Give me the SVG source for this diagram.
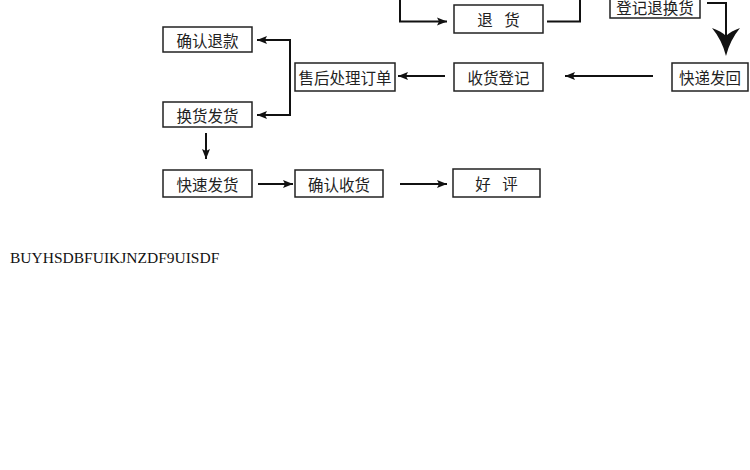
<svg xmlns="http://www.w3.org/2000/svg" width="750" height="470" viewBox="0 0 750 470">
<defs>
<marker id="ah" markerUnits="userSpaceOnUse" markerWidth="12" markerHeight="10" refX="10" refY="5" orient="auto">
<path d="M0,1 L10,5 L0,9 L2,5 Z" fill="#111"/>
</marker>
</defs>
<style>
.box{fill:#fff;stroke:#222;stroke-width:1.5}
.t{font-family:"Noto Sans CJK SC","Noto Sans",sans-serif;font-size:15.5px;fill:#222;text-anchor:middle;dominant-baseline:central}
.c{fill:none;stroke:#111;stroke-width:2}
</style>
<rect width="750" height="470" fill="#fff"/>
<g id="n-tuihuo"><rect class="box" x="454" y="5" width="89" height="28"/><text class="t" x="498.5" y="19" word-spacing="8">退 货</text></g>
<g id="n-dengji"><rect class="box" x="610" y="-12" width="90" height="30"/><text class="t" x="655" y="6.5">登记退换货</text></g>
<g id="n-querentuikuan"><rect class="box" x="163" y="27" width="89" height="25"/><text class="t" x="207.5" y="39.5">确认退款</text></g>
<g id="n-shouhou"><rect class="box" x="295" y="63" width="100" height="28"/><text class="t" x="345" y="77">售后处理订单</text></g>
<g id="n-shouhuodengji"><rect class="box" x="454" y="63" width="89" height="28"/><text class="t" x="498.5" y="77">收货登记</text></g>
<g id="n-kuaidifahui"><rect class="box" x="672" y="63" width="76" height="28"/><text class="t" x="710" y="77">快递发回</text></g>
<g id="n-huanhuofahuo"><rect class="box" x="163" y="102" width="89" height="25"/><text class="t" x="207.5" y="114.5">换货发货</text></g>
<g id="n-kuaisufahuo"><rect class="box" x="163" y="170" width="89" height="27"/><text class="t" x="207.5" y="183.5">快速发货</text></g>
<g id="n-querenshouhuo"><rect class="box" x="295" y="170" width="88" height="27"/><text class="t" x="339" y="183.5">确认收货</text></g>
<g id="n-haoping"><rect class="box" x="453" y="169" width="87" height="28"/><text class="t" x="496.5" y="183" word-spacing="8">好 评</text></g>
<g id="connectors">
<path class="c" d="M400,0 V21.5 H447" marker-end="url(#ah)"/>
<path class="c" d="M547,21.5 H580 V0"/>
<path class="c" d="M707,3 H726 V40"/>
<path d="M712,28 Q721,31 726,36 Q731,31 740,28 Q730,40 726,56 Q722,40 712,28 Z" fill="#111"/>
<path class="c" d="M653,76 H565" marker-end="url(#ah)"/>
<path class="c" d="M445,76 H398" marker-end="url(#ah)"/>
<path class="c" d="M290,40 V115"/>
<path class="c" d="M291,40 H257" marker-end="url(#ah)"/>
<path class="c" d="M291,115 H257" marker-end="url(#ah)"/>
<path class="c" d="M206,133 V159" marker-end="url(#ah)"/>
<path class="c" d="M258,184 H293" marker-end="url(#ah)"/>
<path class="c" d="M400,184 H447" marker-end="url(#ah)"/>
</g>
<text x="10" y="263" font-family="Liberation Serif, serif" font-size="15.5" fill="#111">BUYHSDBFUIKJNZDF9UISDF</text>
</svg>
